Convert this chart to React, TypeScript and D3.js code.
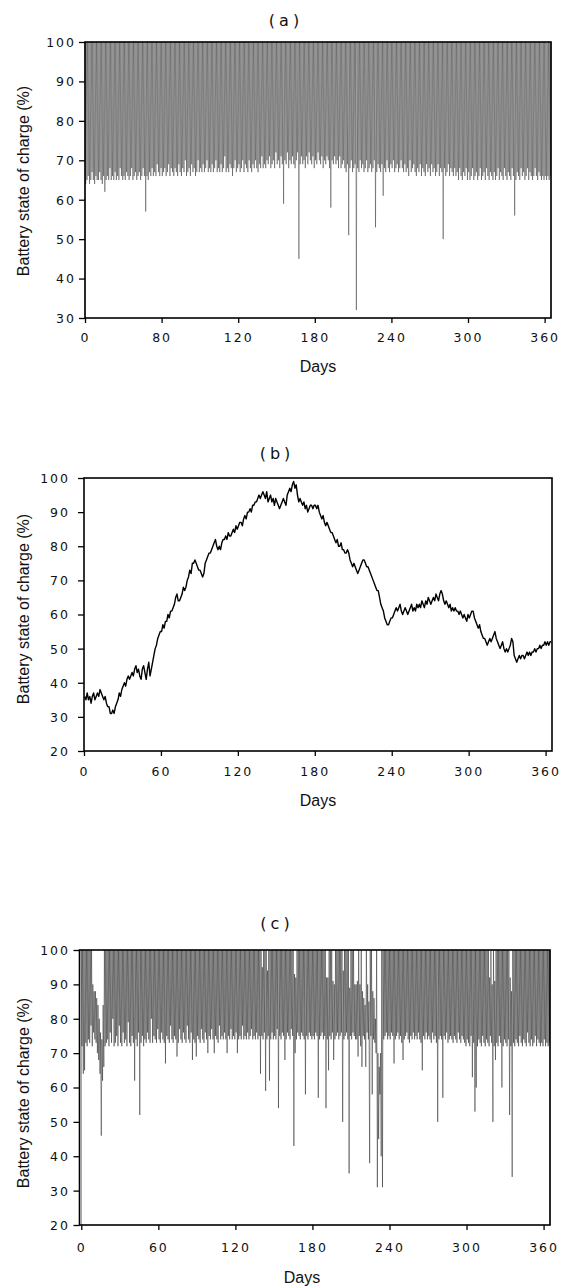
import React, { useRef, useEffect } from 'react';
import { select, axisBottom, axisLeft, scaleLinear, line } from 'd3';

// (a) lowest state of charge (%) reached on each day, days 0..364
const aDailyMin = [
  64, 65, 66, 64, 65, 67, 65, 64, 66, 65,
  65, 67, 65, 64, 66, 62, 65, 66, 65, 68,
  65, 66, 65, 67, 65, 66, 65, 68, 66, 65,
  66, 65, 67, 66, 65, 66, 68, 65, 66, 67,
  65, 66, 67, 65, 66, 68, 66, 57, 66, 65,
  67, 66, 68, 66, 67, 66, 69, 67, 66, 68,
  66, 67, 68, 66, 67, 69, 66, 68, 67, 66,
  68, 67, 66, 69, 67, 66, 68, 67, 70, 66,
  67, 68, 66, 69, 67, 68, 66, 67, 70, 67,
  68, 67, 69, 67, 68, 70, 67, 68, 67, 69,
  67, 68, 70, 67, 68, 67, 69, 67, 68, 71,
  67, 68, 67, 69, 68, 66, 68, 70, 67, 68,
  69, 67, 68, 70, 67, 69, 68, 67, 70, 68,
  67, 69, 68, 70, 68, 67, 69, 68, 71, 68,
  69, 68, 70, 69, 71, 68, 69, 70, 68, 72,
  69, 70, 68, 71, 69, 59, 70, 69, 72, 68,
  70, 69, 71, 69, 68, 70, 72, 45, 69, 71,
  69, 70, 68, 71, 69, 72, 70, 69, 71, 68,
  70, 69, 72, 70, 69, 71, 68, 70, 69, 71,
  70, 68, 58, 70, 69, 71, 69, 70, 68, 71,
  68, 69, 70, 68, 67, 69, 51, 68, 70, 67,
  68, 69, 32, 68, 67, 70, 68, 69, 67, 68,
  70, 67, 68, 69, 67, 68, 70, 53, 67, 69,
  68, 67, 69, 61, 68, 67, 70, 68, 67, 69,
  68, 70, 67, 68, 69, 67, 68, 70, 68, 67,
  69, 67, 68, 66, 70, 67, 68, 69, 67, 66,
  68, 67, 69, 66, 68, 67, 66, 69, 67, 68,
  66, 69, 67, 68, 66, 67, 69, 66, 68, 67,
  50, 68, 66, 67, 69, 66, 68, 67, 66, 68,
  66, 67, 65, 68, 66, 65, 67, 66, 68, 65,
  67, 65, 66, 68, 65, 66, 67, 65, 66, 68,
  65, 66, 67, 65, 68, 66, 65, 67, 66, 65,
  67, 65, 66, 68, 65, 67, 66, 65, 68, 66,
  65, 67, 66, 65, 68, 66, 56, 65, 67, 66,
  65, 68, 66, 67, 65, 66, 68, 65, 67, 66,
  65, 66, 68, 66, 65, 67, 66, 65, 66, 65,
  66, 65, 66, 65, 66,
];
const aStartEnd = 30;

// (b) state of charge (%) at each day
const bDaily = [
  36, 35, 37, 35, 36, 34, 36, 37, 35, 36,
  37, 36, 38, 37, 36, 35, 36, 34, 33, 33,
  31, 31, 32, 31, 33, 34, 35, 37, 36, 38,
  39, 40, 39, 41, 42, 41, 42, 43, 42, 44,
  45, 43, 44, 42, 41, 44, 45, 43, 41, 44,
  46, 42, 44, 46, 48, 50, 51, 53, 54, 55,
  55, 57, 56, 58, 58, 60, 59, 61, 61, 62,
  63, 65, 66, 64, 64, 65, 66, 68, 67, 68,
  70, 71, 73, 72, 75, 75, 76, 75, 74, 73,
  73, 72, 71, 72, 75, 76, 77, 78, 78, 79,
  80, 81, 82, 80, 79, 80, 79, 81, 82, 82,
  83, 82, 84, 83, 83, 84, 85, 84, 86, 85,
  86, 87, 87, 86, 88, 89, 88, 90, 90, 91,
  90, 92, 92, 93, 93, 94, 95, 94, 95, 96,
  95, 94, 96, 93, 94, 95, 93, 94, 92, 94,
  93, 92, 91, 92, 93, 94, 93, 92, 95, 96,
  97, 96, 98, 99, 97, 98, 95, 93, 94, 93,
  92, 93, 91, 92, 90, 91, 92, 92, 91, 92,
  92, 91, 92, 90, 89, 88, 89, 87, 86, 87,
  86, 85, 84, 84, 83, 82, 81, 82, 80, 80,
  81, 79, 79, 78, 78, 79, 78, 76, 75, 74,
  75, 74, 73, 72, 73, 74, 75, 76, 76, 75,
  74, 74, 73, 72, 71, 70, 69, 68, 67, 67,
  65, 63, 62, 61, 59, 58, 57, 57, 58, 59,
  59, 60, 61, 62, 61, 62, 63, 61, 60, 61,
  62, 61, 60, 61, 62, 63, 61, 62, 61, 63,
  62, 63, 62, 64, 63, 62, 64, 63, 65, 64,
  63, 64, 65, 64, 66, 65, 64, 66, 67, 66,
  64, 63, 64, 63, 62, 63, 61, 62, 61, 62,
  61, 61, 60, 61, 60, 59, 60, 59, 58, 60,
  59, 60, 61, 61, 59, 58, 57, 56, 57, 55,
  54, 53, 53, 52, 51, 52, 53, 52, 53, 54,
  55, 53, 52, 51, 50, 51, 52, 50, 49, 50,
  49, 50, 51, 53, 52, 48, 47, 46, 47, 48,
  47, 48, 48, 47, 48, 49, 48, 49, 48, 49,
  49, 50, 49, 50, 50, 51, 50, 51, 51, 52,
  51, 52, 51, 52, 52,
];

// (c) lowest state of charge (%) reached on each day, days 0..364
const cDailyMin = [
  72, 64, 65, 73, 72, 74, 73, 78, 72, 76,
  74, 73, 70, 68, 64, 46, 62, 66, 72, 73,
  74, 72, 76, 73, 80, 72, 73, 75, 72, 78,
  73, 72, 76, 73, 74, 72, 79, 73, 72, 75,
  73, 62, 74, 72, 76, 52, 73, 75, 72, 74,
  73, 76, 74, 73, 80, 73, 75, 74, 73, 77,
  74, 73, 76, 74, 73, 67, 75, 74, 73, 78,
  74, 73, 75, 74, 69, 73, 77, 74, 73, 76,
  74, 73, 78, 74, 73, 76, 68, 74, 73, 69,
  75, 74, 73, 77, 74, 73, 76, 74, 70, 75,
  74, 77, 74, 70, 75, 74, 73, 78, 74, 75,
  74, 76, 74, 70, 75, 74, 77, 74, 75, 74,
  76, 70, 74, 75, 74, 78, 74, 75, 74, 76,
  74, 75, 77, 74, 75, 74, 76, 74, 75, 64,
  75, 74, 76, 59, 74, 75, 62, 74, 76, 74,
  75, 74, 77, 54, 75, 74, 76, 75, 68, 74,
  76, 75, 74, 77, 75, 43, 70, 74, 76, 75,
  74, 76, 75, 74, 58, 75, 74, 76, 75, 74,
  75, 74, 76, 75, 57, 74, 75, 76, 74, 75,
  54, 74, 65, 75, 74, 76, 68, 74, 75, 76,
  74, 75, 76, 50, 74, 75, 76, 74, 35, 75,
  74, 76, 75, 74, 74, 69, 75, 72, 66, 75,
  74, 66, 76, 74, 38, 75, 58, 74, 73, 70,
  31, 45, 58, 40, 31, 74, 75, 76, 74, 75,
  74, 76, 75, 67, 74, 75, 76, 74, 75, 73,
  68, 74, 75, 76, 74, 73, 75, 74, 76, 74,
  75, 74, 76, 74, 73, 65, 75, 74, 76, 74,
  75, 74, 73, 76, 74, 75, 73, 50, 74, 75,
  74, 57, 75, 74, 76, 73, 74, 75, 74, 73,
  75, 74, 73, 76, 74, 73, 75, 74, 73, 72,
  74, 73, 72, 75, 63, 73, 53, 60, 72, 74,
  73, 72, 75, 73, 72, 74, 73, 72, 75, 73,
  50, 72, 68, 73, 72, 75, 73, 60, 72, 74,
  73, 72, 74, 52, 72, 34, 73, 72, 74, 73,
  72, 75, 73, 72, 74, 73, 72, 76, 73, 72,
  74, 72, 73, 75, 72, 74, 73, 72, 73, 72,
  74, 72, 73, 72, 73,
];
// (c) days on which the battery did not get back to 100 %: [day, peak]
const cLowPeaks = [
  [9, 90], [10, 88], [11, 88], [12, 86], [13, 84], [14, 80], [15, 76], [16, 74], [17, 84],
  [141, 95], [145, 94], [166, 93], [167, 92],
  [191, 92], [192, 92], [196, 91], [197, 90],
  [204, 94], [209, 89], [213, 90], [214, 90], [215, 91], [217, 90],
  [219, 88], [220, 86], [221, 84], [223, 90], [224, 85],
  [227, 88], [228, 86], [229, 80], [231, 70], [232, 66], [233, 70],
  [318, 92], [320, 90], [322, 91], [334, 92], [335, 88],
];
const cStartEnd = 20;

const dayTicks = [0, 60, 120, 180, 240, 300, 360];
const aDayTickLabels = ['0', '80', '120', '180', '240', '300', '360'];
const dayTickLabels = ['0', '60', '120', '180', '240', '300', '360'];
const aSocTicks = [30, 40, 50, 60, 70, 80, 90, 100];
const socTicks = [20, 30, 40, 50, 60, 70, 80, 90, 100];

const yLabel = 'Battery state of charge (%)';

// daily charge / discharge cycles: peak at day start, lowest point during the night
function cyclePoints(mins, peaks, startEnd) {
  const pts = [[0, startEnd]];
  mins.forEach((m, i) => {
    pts.push([i, peaks[i]]);
    pts.push([i + 0.55, m]);
  });
  pts.push([mins.length, peaks[mins.length - 1]]);
  pts.push([mins.length, startEnd]);
  return pts;
}

const aPeaks = aDailyMin.map(() => 100);
const cPeakMap = new Map(cLowPeaks.map(p => [p[0], p[1]]));
const cPeaks = cDailyMin.map((v, i) => (cPeakMap.has(i) ? cPeakMap.get(i) : 100));

const panels = [
  {
    key: 'a', title: '(a)', titleX: 286, titleY: 20,
    xRange: [85, 551], frameLeft: 85, yDomain: [30, 100], yRange: [318, 42],
    yTicks: aSocTicks, xLabels: aDayTickLabels, xLabelY: 338, yLabelX: 74,
    daysX: 318, daysY: 366, yTitleY: 181,
    points: cyclePoints(aDailyMin, aPeaks, aStartEnd), stroke: 0.42, color: '#222',
  },
  {
    key: 'b', title: '(b)', titleX: 277, titleY: 453,
    xRange: [84, 552], frameLeft: 84, yDomain: [20, 100], yRange: [751, 478],
    yTicks: socTicks, xLabels: dayTickLabels, xLabelY: 772, yLabelX: 68,
    daysX: 318, daysY: 800, yTitleY: 609,
    points: bDaily.map((v, i) => [i + 0.5, v]), stroke: 1.4, color: '#000',
  },
  {
    key: 'c', title: '(c)', titleX: 277, titleY: 923,
    xRange: [81.3, 550], frameLeft: 79.5, yDomain: [20, 100], yRange: [1225, 950],
    yTicks: socTicks, xLabels: dayTickLabels, xLabelY: 1248, yLabelX: 68,
    daysX: 302, daysY: 1277, yTitleY: 1093,
    points: cyclePoints(cDailyMin, cPeaks, cStartEnd), stroke: 0.45, color: '#111',
  },
];

const tickFont = 'DejaVu Sans, Verdana, sans-serif';
const labelFont = 'Liberation Sans, Arial, Helvetica, sans-serif';

function Panel({ p }) {
  const xAxisRef = useRef(null);
  const yAxisRef = useRef(null);

  const x = scaleLinear().domain([0, 365]).range(p.xRange);
  const y = scaleLinear().domain(p.yDomain).range(p.yRange);
  const bottom = p.yRange[0];
  const top = p.yRange[1];
  const right = p.xRange[1];

  useEffect(() => {
    const xg = select(xAxisRef.current);
    xg.call(axisBottom(x).tickValues(dayTicks).tickSize(5).tickFormat((d, i) => p.xLabels[i]));
    xg.select('.domain').remove();
    xg.selectAll('line').attr('stroke-width', 1.3);
    xg.selectAll('text')
      .attr('y', p.xLabelY - bottom)
      .attr('dy', '0.35em')
      .attr('font-family', tickFont)
      .attr('font-size', 12.5)
      .attr('letter-spacing', 2)
      .attr('fill', '#111');

    const yg = select(yAxisRef.current);
    yg.call(axisLeft(y).tickValues(p.yTicks).tickSize(6));
    yg.select('.domain').remove();
    yg.selectAll('line').attr('stroke-width', 1.3);
    yg.selectAll('text')
      .attr('x', p.yLabelX - p.frameLeft + 2)
      .attr('dy', '0.35em')
      .attr('font-family', tickFont)
      .attr('font-size', 12.5)
      .attr('letter-spacing', 2)
      .attr('fill', '#111');
  }, []);

  const path = line().x(d => x(d[0])).y(d => y(d[1]));

  return (
    <g>
      <text x={p.titleX} y={p.titleY} dy="0.35em" textAnchor="middle"
        fontFamily={tickFont} fontSize={16} letterSpacing={4} fill="#111">{p.title}</text>
      <path d={path(p.points)} fill="none" stroke={p.color} strokeWidth={p.stroke} strokeLinejoin="round" />
      <rect x={p.frameLeft} y={top} width={right - p.frameLeft} height={bottom - top}
        fill="none" stroke="#000" strokeWidth={1.6} />
      <g ref={xAxisRef} transform={`translate(0,${bottom})`} />
      <g ref={yAxisRef} transform={`translate(${p.frameLeft},0)`} />
      <text x={p.daysX} y={p.daysY} dy="0.35em" textAnchor="middle"
        fontFamily={labelFont} fontSize={16} fill="#111">Days</text>
      <text transform={`translate(23.5,${p.yTitleY}) rotate(-90)`} dy="0.35em" textAnchor="middle"
        fontFamily={labelFont} fontSize={16} fill="#111">{yLabel}</text>
    </g>
  );
}

export default function App() {
  return (
    <svg width={565} height={1288} style={{ position: 'absolute', left: 0, top: 0, background: '#fff' }}>
      {panels.map(p => <Panel key={p.key} p={p} />)}
    </svg>
  );
}
